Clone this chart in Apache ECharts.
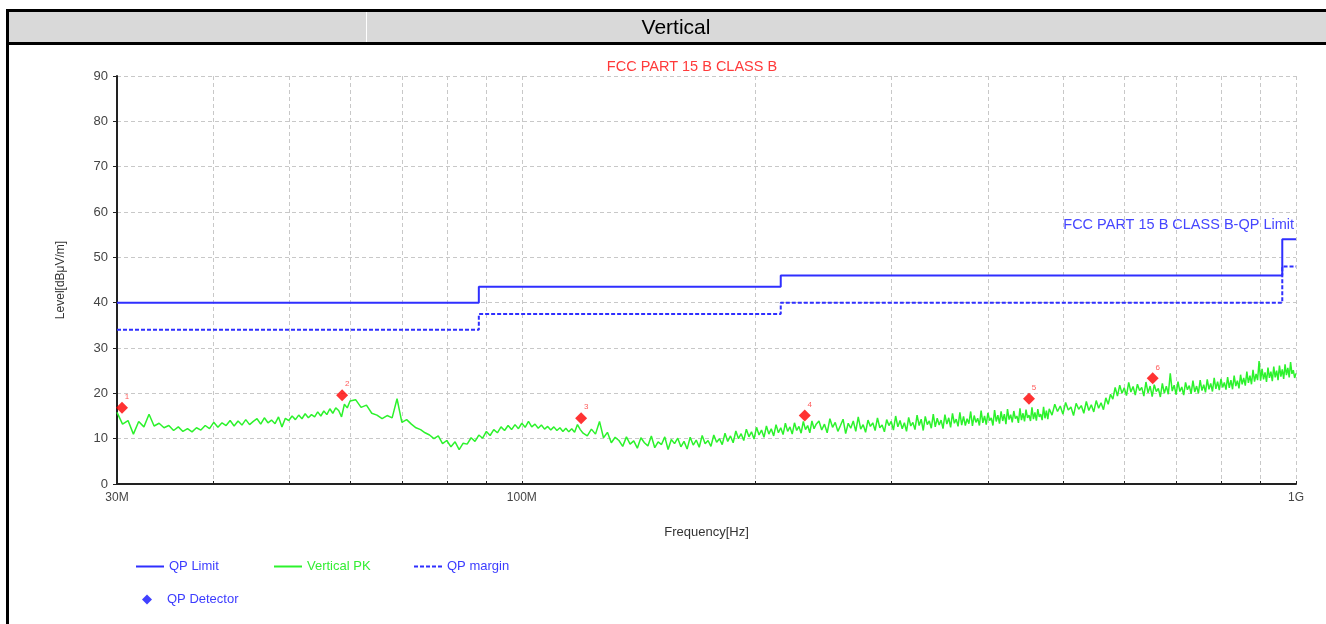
<!DOCTYPE html>
<html><head><meta charset="utf-8">
<script src="https://cdn.jsdelivr.net/npm/echarts@6/dist/echarts.min.js"></script>
<style>
html,body{margin:0;padding:0;background:#fff;width:1326px;height:624px;overflow:hidden;font-family:'Liberation Sans',Arial,sans-serif;}
#chart{position:absolute;left:0;top:0;width:1326px;height:624px;}
#hdr{position:absolute;left:6px;top:9px;width:1320px;height:30px;background:#d9d9d9;border-top:3px solid #000;border-bottom:3px solid #000;}
#lb{position:absolute;left:6px;top:9px;width:3px;height:615px;background:#000;}
#dv{position:absolute;left:366px;top:12px;width:1px;height:30px;background:#fff;}
#ttl{position:absolute;left:0;width:1352px;top:14px;text-align:center;font-size:21px;line-height:25px;color:#000;}
</style></head><body>
<div id="chart"></div>
<div id="hdr"></div><div id="lb"></div><div id="dv"></div><div id="ttl">Vertical</div>
<script>
// ---- data (frequencies in MHz, levels in dBµV/m) ----
const limitFreq = [30, 88, 216, 960, 1000];
const limitLevel = [40, 43.5, 46, 54, 54];
const marginLevel = [34, 37.5, 40, 48, 48];
const markerFreq = [30.45, 58.6, 119.3, 232, 452, 653];
const markerLevel = [16.8, 19.6, 14.5, 15.1, 18.8, 23.3];
const markerNo = ['1', '2', '3', '4', '5', '6'];
const gridFreq = [30, 40, 50, 60, 70, 80, 90, 100, 200, 300, 400, 500, 600, 700, 800, 900, 1000];
const labelFreq = [30, 100, 1000];
const yMin = 0, yMax = 90, yStep = 10;
const pkTrace = [
[30,15.8],[30.5,13.2],[31,14.0],[31.5,11.0],[32,13.8],[32.5,12.6],[33,15.4],[33.5,12.8],[34,13.4],[34.5,12.4],
[35,12.9],[35.5,11.8],[36,12.6],[36.5,11.6],[37,12.2],[37.5,11.5],[38,12.4],[38.5,11.9],[39,12.9],[39.5,12.2],
[40,13.6],[40.5,12.5],[41,13.5],[41.5,12.9],[42,14.0],[42.5,12.8],[43,13.9],[43.5,13.0],[44,14.2],[44.5,13.1],
[45,13.8],[45.5,14.4],[46,13.2],[46.5,14.6],[47,13.5],[47.5,14.1],[48,13.3],[48.5,14.8],[49,12.6],[49.5,14.5],
[50,14.0],[50.5,15.0],[51,14.2],[51.5,15.2],[52,14.4],[52.5,15.5],[53,14.6],[53.5,15.3],[54,14.8],[54.5,15.9],
[55,15.0],[55.5,16.1],[56,15.3],[56.5,16.6],[57,15.6],[57.5,16.8],[58,16.2],[58.5,14.8],[59,17.6],[59.5,16.8],
[60,18.3],[61,18.6],[62,16.9],[63,17.4],[64,15.6],[65,15.2],[66,14.4],[67,15.1],[68,14.6],[69,18.8],
[70,13.6],[71,14.2],[72,13.2],[73,12.4],[74,12.0],[75,11.3],[76,10.8],[77,10.0],[78,10.6],[79,8.9],
[80,9.6],[81,8.2],[82,9.3],[83,7.6],[84,9.0],[85,8.8],[86,10.2],[87,9.4],[88,10.8],[89,10.1],
[90,11.6],[91,10.7],[92,12.0],[93,11.3],[94,12.6],[95,11.8],[96,12.9],[97,12.0],[98,13.1],[99,12.2],
[100,13.4],[101,12.5],[102,13.8],[103,12.6],[104,13.2],[105,12.3],[106,13.0],[107,12.1],[108,12.7],[109,11.9],
[110,12.6],[111,11.8],[112,12.4],[113,11.6],[114,12.3],[115,11.5],[116,12.2],[117,11.4],[118,13.1],[119,12.0],
[120,11.2],[121.5,10.6],[123,12.1],[124.5,11.0],[126,13.8],[127.5,10.2],[129,11.4],[130.5,9.1],[132,10.3],[133.5,9.6],
[135,8.3],[136.5,10.4],[138,8.8],[139.5,9.5],[141,7.9],[142.5,10.2],[144,9.1],[145.5,8.4],[147,10.6],[148.5,8.0],
[150,9.3],[151.5,8.7],[153,10.4],[154.5,7.6],[156,9.8],[157.5,8.9],[159,10.1],[160.5,8.2],[162,9.4],[163.5,7.7],
[165,10.3],[166.5,8.6],[168,9.7],[169.5,8.1],[171,10.7],[172.5,8.9],[174,9.6],[175.5,8.3],[177,10.8],[178.5,9.2],
[180,10.0],[181.5,8.7],[183,11.2],[184.5,9.4],[186,10.6],[187.5,9.1],[189,11.7],[190.5,10.0],[192,11.1],[193.5,9.6],
[195,12.1],[196.5,10.4],[198,11.5],[199.5,9.9],[201,12.5],[202.5,10.8],[204,11.9],[205.5,10.3],[207,12.8],[208.5,11.0],
[210,12.2],[211.5,10.6],[213,13.1],[214.5,11.3],[216,12.4],[217.5,10.9],[219,13.4],[220.5,11.6],[222,12.6],[223.5,11.0],
[225,13.5],[226.5,11.8],[228,12.7],[229.5,11.2],[231,13.8],[232.5,12.0],[234,12.9],[235.5,11.3],[237,13.9],[238.5,12.2],
[240,13.2],[242,13.9],[244,11.9],[246,13.2],[248,11.3],[250,14.4],[252,12.5],[254,13.6],[256,11.6],[258,12.9],
[260,14.3],[262,11.1],[264,13.4],[266,12.3],[268,13.9],[270,11.6],[272,14.8],[274,12.1],[276,13.1],[278,11.4],
[280,14.1],[282,12.7],[284,13.5],[286,11.8],[288,14.6],[290,12.4],[292,13.0],[294,11.5],[296,14.2],[298,12.9],
[300,13.8],[302,11.9],[304,15.0],[306,12.6],[308,14.0],[310,12.2],[312,13.5],[314,11.6],[316,14.7],[318,12.8],
[320,13.6],[322,12.0],[324,15.2],[326,12.9],[328,14.3],[330,11.8],[332,14.9],[334,13.1],[336,13.9],[338,12.3],
[340,15.4],[342,12.6],[344,14.5],[346,13.0],[348,14.1],[350,12.2],[352,15.3],[354,13.2],[356,14.6],[358,12.5],
[360,15.6],[362,13.4],[364,14.3],[366,12.7],[368,15.8],[370,13.0],[372,14.9],[374,12.9],[376,14.4],[378,13.3],
[380,16.0],[382,12.8],[384,15.1],[386,13.6],[388,14.5],[390,12.9],[392,16.2],[394,13.5],[396,15.0],[398,13.1],
[400,15.7],[402,14.0],[404,14.6],[406,12.9],[408,16.3],[410,13.8],[412,15.2],[414,13.3],[416,16.0],[418,13.9],
[420,15.4],[422,13.2],[424,16.5],[426,14.2],[428,15.3],[430,13.6],[432,16.1],[434,14.4],[436,15.0],[438,13.5],
[440,16.7],[442,14.1],[444,15.6],[446,13.8],[448,16.4],[450,14.6],[452,15.2],[454,13.9],[456,16.9],[458,14.3],
[460,15.8],[462,14.0],[464,16.5],[466,14.8],[468,15.4],[470,14.1],[472,17.0],[474,14.5],[476,16.2],[478,14.3],
[480,16.6],[484,15.2],[488,17.6],[492,16.0],[496,17.2],[500,15.4],[504,18.0],[508,16.3],[512,17.0],[516,15.1],
[520,17.8],[524,16.5],[528,17.3],[532,15.6],[536,18.2],[540,16.2],[544,17.5],[548,15.9],[552,18.4],[556,16.7],
[560,17.9],[564,16.4],[568,19.0],[572,17.6],[576,19.8],[580,18.7],[584,21.3],[588,19.4],[592,21.8],[596,20.0],
[600,21.2],[604,19.5],[608,22.4],[612,20.3],[616,21.5],[620,19.6],[624,22.0],[628,20.6],[632,21.3],[636,19.4],
[640,22.5],[644,20.1],[648,21.6],[652,19.3],[656,21.9],[660,20.4],[664,21.1],[668,19.2],[672,22.2],[676,20.0],
[680,21.6],[684,19.8],[688,24.4],[692,20.5],[696,21.8],[700,19.7],[704,22.6],[708,20.4],[712,21.4],[716,19.6],
[720,22.4],[724,20.8],[728,21.7],[732,19.9],[736,22.8],[740,20.3],[744,21.6],[748,20.0],[752,22.9],[756,20.6],
[760,21.9],[764,20.2],[768,23.1],[772,20.9],[776,22.2],[780,20.4],[784,23.4],[788,21.0],[792,22.6],[796,20.7],
[800,23.2],[804,21.3],[808,22.4],[812,20.8],[816,23.6],[820,21.2],[824,22.9],[828,20.9],[832,23.9],[836,21.6],
[840,22.8],[844,21.1],[848,24.1],[852,22.0],[856,23.4],[860,21.7],[864,24.8],[868,22.3],[872,23.9],[876,22.0],
[880,25.2],[884,22.6],[888,24.3],[892,22.9],[896,27.1],[900,22.8],[904,25.4],[908,23.1],[912,24.6],[916,22.5],
[920,25.7],[924,23.4],[928,24.8],[932,22.7],[936,25.9],[940,23.5],[944,25.0],[948,22.9],[952,26.1],[956,23.7],
[960,25.3],[964,23.2],[968,26.4],[972,24.0],[976,25.6],[980,23.5],[984,26.9],[988,24.3],[992,25.1],[996,23.4],
[1000,24.4]
];

// ---- chart ----
const FONT = "'Liberation Sans', Arial, sans-serif";
const BLUE = '#2f2fff';
const GREEN = '#2cf22c';
const chart = echarts.init(document.getElementById('chart'), null, {renderer: 'canvas'});
const limitData = limitFreq.map((f, i) => [f, limitLevel[i]]);
const marginData = limitFreq.map((f, i) => [f, marginLevel[i]]);
const markerData = markerFreq.map((f, i) => [f, markerLevel[i]]);
const gridLine = {show: true, lineStyle: {color: '#c8c8c8', width: 1, type: [4, 3]}};
const noSym = {color: 'rgba(0,0,0,0)', borderWidth: 0, opacity: 0};

chart.setOption({
  animation: false,
  textStyle: {fontFamily: FONT},
  grid: {left: 117, right: 30, top: 76, bottom: 140},
  graphic: [
    {type: 'text', x: 692, y: 67, style: {text: 'FCC PART 15 B CLASS B', fill: '#ff3a3a', font: '14.5px ' + FONT, align: 'center', verticalAlign: 'middle'}},
    {type: 'text', x: 1294, y: 225, style: {text: 'FCC PART 15 B CLASS B-QP Limit', fill: '#4646ff', font: '14.5px ' + FONT, align: 'right', verticalAlign: 'middle'}}
  ],
  legend: [
    {data: ['QP Limit'], left: 135, top: 560, padding: 0, itemWidth: 28, itemHeight: 14, itemStyle: noSym, textStyle: {color: '#3c3cff', fontSize: 13}},
    {data: ['Vertical PK'], left: 273, top: 560, padding: 0, itemWidth: 28, itemHeight: 14, itemStyle: noSym, textStyle: {color: '#33ee33', fontSize: 13}},
    {data: ['QP margin'], left: 413, top: 560, padding: 0, itemWidth: 28, itemHeight: 14, itemStyle: noSym, textStyle: {color: '#3c3cff', fontSize: 13}},
    {data: [{name: 'QP Detector', icon: 'diamond', itemStyle: {color: '#1010ff'}}], left: 142, top: 593, padding: 0, itemWidth: 10, itemHeight: 10,
     textStyle: {color: '#3c3cff', fontSize: 13, padding: [0, 0, 0, 10]}}
  ],
  xAxis: {
    type: 'log', logBase: 10, min: labelFreq[0], max: labelFreq[labelFreq.length - 1],
    name: 'Frequency[Hz]', nameLocation: 'middle', nameGap: 42,
    nameTextStyle: {color: '#333', fontSize: 13},
    axisLine: {show: true, lineStyle: {color: '#222', width: 2}},
    axisTick: {show: true, customValues: gridFreq, length: 3, inside: true, lineStyle: {color: '#222'}},
    axisLabel: {customValues: labelFreq, color: '#444', fontSize: 12, margin: 8,
      formatter: v => (v >= 1000 ? (v / 1000) + 'G' : v + 'M')},
    splitLine: gridLine, minorTick: {show: false}, minorSplitLine: {show: false}
  },
  yAxis: {
    type: 'value', min: yMin, max: yMax, interval: yStep,
    name: 'Level[dBμV/m]', nameLocation: 'middle', nameGap: 50,
    nameTextStyle: {color: '#333', fontSize: 12},
    axisLine: {show: true, lineStyle: {color: '#222', width: 2}},
    axisTick: {show: true, length: 4, lineStyle: {color: '#222'}},
    axisLabel: {color: '#444', fontSize: 13, margin: 9},
    splitLine: gridLine
  },
  series: [
    {name: 'Vertical PK', type: 'line', data: pkTrace, symbol: 'none', z: 2,
     lineStyle: {color: GREEN, width: 1.5}, itemStyle: {color: GREEN}},
    {name: 'QP Limit', type: 'line', step: 'end', data: limitData, symbol: 'none', z: 3,
     lineStyle: {color: BLUE, width: 2}, itemStyle: {color: BLUE}},
    {name: 'QP margin', type: 'line', step: 'end', data: marginData, symbol: 'none', z: 3,
     lineStyle: {color: BLUE, width: 2, type: [4, 2]}, itemStyle: {color: BLUE}},
    {name: 'QP Detector', type: 'scatter', data: markerData, symbol: 'diamond', symbolSize: 12, z: 5,
     itemStyle: {color: '#ff0000'},
     label: {show: true, position: 'top', distance: 1, offset: [5, 0], color: '#ff3030', fontSize: 8,
       formatter: p => markerNo[p.dataIndex]}}
  ]
});
</script>
</body></html>
